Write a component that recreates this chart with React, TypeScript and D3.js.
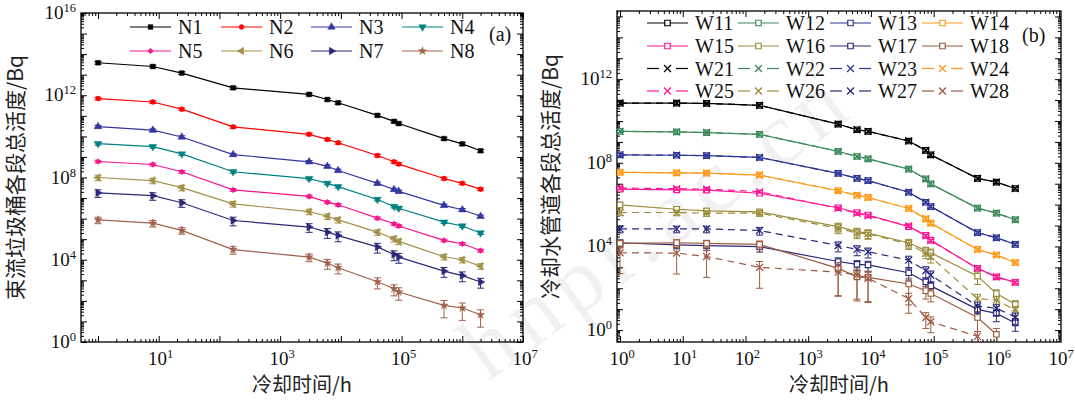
import React, { useEffect, useRef } from "react";
import * as d3 from "d3";

// cooling time points (h), shared by both panels
const hours = [1, 8, 24, 168, 3000, 6000, 9000, 40000, 75000, 90000, 500000, 1000000, 2000000];

// (a) beam dump segments, total activity (Bq)
const nNames = ["N1", "N2", "N3", "N4", "N5", "N6", "N7", "N8"];
const nColors = ["#000000", "#ff0000", "#3236a0", "#008080", "#f5148c", "#a4914a", "#2a2a78", "#a0604a"];
const nMarkers = ["square", "circle", "triUp", "triDown", "diamond", "triLeft", "triRight", "star"];
const N1 = [3.8e13, 2.5e13, 1.2e13, 2.3e12, 1.1e12, 6.2e11, 4.3e11, 1.05e11, 5.4e10, 4.2e10, 7.8e9, 4.3e9, 2.0e9];
const N2 = [6.9e11, 4.7e11, 2.1e11, 2.9e10, 1.26e10, 7.1e9, 4.9e9, 1.17e9, 5.8e8, 4.5e8, 8.9e7, 5.2e7, 2.7e7];
const N3 = [3.0e10, 2.0e10, 9.3e9, 1.3e9, 5.8e8, 3.5e8, 2.2e8, 5.2e7, 2.6e7, 2.1e7, 4.4e6, 2.7e6, 1.3e6];
const N4 = [4.4e9, 3.2e9, 1.4e9, 1.9e8, 8.9e7, 5.2e7, 3.6e7, 8.5e6, 3.9e6, 3.2e6, 6.8e5, 4.4e5, 2.0e5];
const N5 = [6.0e8, 4.3e8, 1.9e8, 2.5e7, 1.2e7, 6.3e6, 4.7e6, 1.05e6, 5.6e5, 4.4e5, 8.7e4, 6.0e4, 2.8e4];
const N6 = [1.0e8, 7.1e7, 3.2e7, 5.2e6, 2.2e6, 1.3e6, 8.7e5, 2.2e5, 1.05e5, 7.8e4, 1.4e4, 1.0e4, 4.9e3];
const N7 = [1.8e7, 1.3e7, 5.9e6, 8.1e5, 3.9e5, 2.2e5, 1.5e5, 4.2e4, 1.8e4, 1.35e4, 2.8e3, 1.7e3, 830];
const N8 = [8.7e5, 6.0e5, 2.7e5, 3.1e4, 1.35e4, 6.9e3, 4.1e3, 850, 390, 270, 60, 45, 21];
// relative uncertainties
const nErrLow = [0.15, 0.15, 0.15, 0.15, 0.15, 0.15, 0.15, 0.15, 0.15, 0.15, 0.15, 0.15, 0.15];
const N6err = [0.3, 0.3, 0.3, 0.3, 0.3, 0.3, 0.3, 0.3, 0.3, 0.3, 0.3, 0.3, 0.3];
const N7err = [0.4, 0.4, 0.4, 0.45, 0.45, 0.5, 0.5, 0.5, 0.5, 0.5, 0.5, 0.5, 0.5];
const N8err = [0.35, 0.35, 0.35, 0.4, 0.4, 0.5, 0.5, 0.55, 0.55, 0.6, 0.75, 0.75, 0.75];

// (b) cooling water pipe segments, total activity (Bq)
const wNames = ["W11", "W12", "W13", "W14", "W15", "W16", "W17", "W18", "W21", "W22", "W23", "W24", "W25", "W26", "W27", "W28"];
const wColors = ["#000000", "#3f8a5c", "#2d3596", "#ff9a1a", "#ff1493", "#9c8c3c", "#28287a", "#9c5a40"];
const W11 = [7.2e10, 7.2e10, 6.9e10, 5.6e10, 7.1e9, 3.8e9, 3.2e9, 1.1e9, 3.9e8, 2.4e8, 1.8e7, 1.2e7, 5.9e6];
const W12 = [3.2e9, 3.0e9, 2.8e9, 2.3e9, 3.5e8, 2.0e8, 1.55e8, 5.0e7, 1.7e7, 9.8e6, 6.8e5, 3.9e5, 1.9e5];
const W13 = [2.4e8, 2.3e8, 2.2e8, 1.8e8, 3.1e7, 1.8e7, 1.4e7, 3.9e6, 1.3e6, 8.1e5, 4.6e4, 2.6e4, 1.26e4];
const W14 = [3.5e7, 3.3e7, 3.2e7, 2.6e7, 4.6e6, 2.8e6, 2.2e6, 6.5e5, 2.1e5, 1.3e5, 7.2e3, 3.9e3, 1.7e3];
const W15 = [5.5e6, 5.1e6, 4.9e6, 3.5e6, 7.1e5, 4.2e5, 3.2e5, 8.9e4, 3.4e4, 2.0e4, 890, 350, 190];
const W16 = [9.8e5, 6.0e5, 5.0e5, 4.5e5, 8.9e4, 5.1e4, 4.3e4, 1.5e4, 6.3e3, 5.0e3, 380, 56, 17];
const W17 = [1.5e4, 1.2e4, 1.1e4, 9.8e3, 1.9e3, 1.4e3, 1.3e3, 550, 200, 130, 9.8, 6.3, 2.2];
const W18 = [1.4e4, 1.5e4, 1.4e4, 1.26e4, 890, 350, 330, 160, 76, 56, 4.0, 0.63, null];
const W21 = W11;
const W22 = W12;
const W23 = W13;
const W24 = W14;
const W25 = [6.2e6, 5.8e6, 5.5e6, 4.2e6, 6.6e5, 3.8e5, 2.9e5, 9.5e4, 3.2e4, 1.9e4, 890, 350, 190];
const W26 = [4.2e5, 4.2e5, 3.9e5, 3.9e5, 7.4e4, 4.3e4, 4.0e4, 1.3e4, 4.7e3, 3.2e3, 32, 27, 9.1];
const W27 = [6.9e4, 6.9e4, 6.9e4, 5.8e4, 1.1e4, 7.2e3, 5.6e3, 2.2e3, 690, 430, 14, 11, 4.2];
const W28 = [5.0e3, 4.8e3, 3.3e3, 1.0e3, 590, 430, 300, 32, 4.0, 2.5, 0.5, null, null];
const wErrSmall = [0.15, 0.15, 0.15, 0.15, 0.15, 0.15, 0.15, 0.15, 0.15, 0.15, 0.15, 0.15, 0.15];
const W16err = [0.3, 0.3, 0.3, 0.3, 0.45, 0.45, 0.45, 0.45, 0.45, 0.5, 0.6, 0.5, 0.5];
const W17err = [0.35, 0.35, 0.4, 0.45, 0.5, 0.5, 0.5, 0.55, 0.55, 0.55, 0.6, 0.6, 0.6];
const W18err = [0.4, 0.4, 0.4, 0.45, 0.95, 0.93, 0.93, 0.9, 0.6, 0.6, 0.95, 0.9, 0.9];
const W27err = [0.35, 0.35, 0.35, 0.4, 0.5, 0.5, 0.5, 0.55, 0.55, 0.55, 0.55, 0.55, 0.55];
const W28err = [0.9, 0.9, 0.9, 0.9, 0.93, 0.93, 0.93, 0.8, 0.7, 0.7, 0.7, 0.7, 0.7];

const leftXLabels = [1, 3, 5, 7];
const leftYLabels = [0, 4, 8, 12, 16];
const rightXLabels = [0, 1, 2, 3, 4, 5, 6, 7];
const rightYLabels = [0, 4, 8, 12];

const SERIF = "'Liberation Serif', 'Times New Roman', serif";
const CJK = "'Noto Sans CJK SC', sans-serif";

function symbolPath(kind, size) {
  const s = d3.symbol();
  if (kind === "square" || kind === "openSquare") return s.type(d3.symbolSquare).size(size)();
  if (kind === "circle") return s.type(d3.symbolCircle).size(size * 0.85)();
  if (kind === "diamond") return s.type(d3.symbolSquare).size(size * 0.75)();
  if (kind === "star") return s.type(d3.symbolStar).size(size * 0.9)();
  if (kind === "cross") return s.type(d3.symbolX).size(size * 1.1)();
  return s.type(d3.symbolTriangle).size(size * 1.1)();
}
const rotation = { triDown: 180, triLeft: -90, triRight: 90, diamond: 45 };

function drawMarker(g, kind, color, cx, cy, size) {
  const p = g.append("path")
    .attr("d", symbolPath(kind, size))
    .attr("transform", `translate(${cx},${cy}) rotate(${rotation[kind] || 0})`);
  if (kind === "openSquare") p.attr("fill", "#fff").attr("stroke", color).attr("stroke-width", 1.2);
  else if (kind === "cross") p.attr("fill", "none").attr("stroke", color).attr("stroke-width", 1.3);
  else p.attr("fill", color).attr("stroke", color).attr("stroke-width", 0.5);
}

function drawPanel(root, p) {
  const x = d3.scaleLog().domain(p.xDomain).range([p.left, p.right]);
  const y = d3.scaleLog().domain(p.yDomain).range([p.bottom, p.top]);
  const g = root.append("g");

  // ticks, inward on all four sides
  const logTicks = (dom) => {
    const major = [], minor = [];
    for (let k = Math.floor(Math.log10(dom[0])); k <= Math.ceil(Math.log10(dom[1])); k++) {
      for (let m = 1; m < 10; m++) {
        const v = m * Math.pow(10, k);
        if (v < dom[0] || v > dom[1] * 1.0001) continue;
        (m === 1 ? major : minor).push(v);
      }
    }
    return { major, minor };
  };
  const xt = logTicks(p.xDomain);
  const yt = logTicks(p.yDomain);
  const addAxis = (axisFn, scale, values, size, transform) => {
    g.append("g").attr("transform", transform)
      .call(axisFn(scale).tickValues(values).tickSizeInner(-size).tickSizeOuter(0).tickFormat(() => ""))
      .call((s) => s.select(".domain").remove())
      .call((s) => s.selectAll("line").attr("stroke", "#000").attr("stroke-width", 1));
  };
  [[xt.major, 6], [xt.minor, 3]].forEach(([vals, len]) => {
    addAxis(d3.axisBottom, x, vals, len, `translate(0,${p.bottom})`);
    addAxis(d3.axisTop, x, vals, len, `translate(0,${p.top})`);
  });
  [[yt.major, 6], [yt.minor, 3]].forEach(([vals, len]) => {
    addAxis(d3.axisLeft, y, vals, len, `translate(${p.left},0)`);
    addAxis(d3.axisRight, y, vals, len, `translate(${p.right},0)`);
  });

  g.append("rect")
    .attr("x", p.left).attr("y", p.top)
    .attr("width", p.right - p.left).attr("height", p.bottom - p.top)
    .attr("fill", "none").attr("stroke", "#000").attr("stroke-width", 1.3);

  p.xLabels.forEach((e) => {
    const t = g.append("text").attr("x", x(Math.pow(10, e)) + 2).attr("y", p.bottom + 23)
      .attr("text-anchor", "middle").attr("font-family", SERIF).attr("font-size", 19).attr("fill", "#111");
    t.append("tspan").text("10");
    t.append("tspan").attr("font-size", 12.5).attr("dy", -7).text(String(e));
  });
  p.yLabels.forEach((e) => {
    const t = g.append("text").attr("x", p.left - 5).attr("y", y(Math.pow(10, e)) + 6)
      .attr("text-anchor", "end").attr("font-family", SERIF).attr("font-size", 19).attr("fill", "#111");
    t.append("tspan").text("10");
    t.append("tspan").attr("font-size", 12.5).attr("dy", -7).text(String(e));
  });

  g.append("text").attr("x", (p.left + p.right) / 2).attr("y", 392)
    .attr("text-anchor", "middle").attr("font-family", CJK).attr("font-size", 20).attr("fill", "#222")
    .text("冷却时间/h");
  g.append("text")
    .attr("transform", `translate(${p.left - p.titleOffset},${(p.top + p.bottom) / 2}) rotate(-90)`)
    .attr("text-anchor", "middle").attr("font-family", CJK).attr("font-size", 21).attr("fill", "#222")
    .text(p.yTitle);

  g.append("text").attr("x", p.tagX).attr("y", p.tagY).attr("font-family", SERIF)
    .attr("font-size", 20).attr("fill", "#111").text(p.tag);

  // data
  const clipId = `clip-${p.id}`;
  g.append("clipPath").attr("id", clipId).append("rect")
    .attr("x", p.left).attr("y", p.top).attr("width", p.right - p.left).attr("height", p.bottom - p.top);
  const data = g.append("g").attr("clip-path", `url(#${clipId})`);
  const line = d3.line().defined((d) => d[1] != null).x((d) => x(d[0])).y((d) => y(d[1]));

  p.series.forEach((s) => {
    const pts = hours.map((h, i) => [h, s.values[i], s.err[i]]);
    data.append("path").datum(pts).attr("d", line).attr("fill", "none")
      .attr("stroke", s.color).attr("stroke-width", 1.2)
      .attr("stroke-dasharray", s.dashed ? "7,5" : null);
    pts.filter((d) => d[1] != null).forEach(([h, v, e]) => {
      const cx = x(h);
      const lo = v * (1 - e) > 0 ? y(v * (1 - e)) : p.bottom + 20;
      const hi = y(v * (1 + e));
      const eb = data.append("g").attr("stroke", s.color).attr("stroke-width", 1);
      eb.append("line").attr("x1", cx).attr("x2", cx).attr("y1", lo).attr("y2", hi);
      eb.append("line").attr("x1", cx - 3.5).attr("x2", cx + 3.5).attr("y1", lo).attr("y2", lo);
      eb.append("line").attr("x1", cx - 3.5).attr("x2", cx + 3.5).attr("y1", hi).attr("y2", hi);
      drawMarker(data, s.marker, s.color, cx, y(v), p.markerSize);
    });
  });

  // legend
  p.series.forEach((s, i) => {
    const col = i % 4;
    const row = Math.floor(i / 4);
    const lx = p.legX[col];
    const ly = p.legY[row];
    const lg = g.append("g");
    if (s.dashed) {
      lg.append("line").attr("x1", lx).attr("x2", lx + 12).attr("y1", ly).attr("y2", ly).attr("stroke", s.color).attr("stroke-width", 1.2);
      lg.append("line").attr("x1", lx + 29).attr("x2", lx + 41).attr("y1", ly).attr("y2", ly).attr("stroke", s.color).attr("stroke-width", 1.2);
    } else {
      lg.append("line").attr("x1", lx).attr("x2", lx + 41).attr("y1", ly).attr("y2", ly).attr("stroke", s.color).attr("stroke-width", 1.2);
    }
    drawMarker(lg, s.marker, s.color, lx + 20.5, ly, p.markerSize);
    lg.append("text").attr("x", lx + 48).attr("y", ly + 7).attr("font-family", SERIF)
      .attr("font-size", 20).attr("fill", "#111").text(s.name);
  });
}

export default function App() {
  const svgRef = useRef(null);

  useEffect(() => {
    const svg = d3.select(svgRef.current);
    svg.selectAll("*").remove();

    // faint site watermark
    svg.append("text")
      .attr("transform", "translate(488,382) rotate(-36)")
      .attr("font-family", SERIF).attr("font-size", 90).attr("letter-spacing", 9)
      .attr("fill", "#f1f1f1").text("hnpr.ac.cn");

    const nValues = [N1, N2, N3, N4, N5, N6, N7, N8];
    const nErrs = [nErrLow, nErrLow, nErrLow, nErrLow, nErrLow, N6err, N7err, N8err];
    drawPanel(svg, {
      id: "a",
      left: 81, right: 523, top: 13, bottom: 342,
      xDomain: [Math.pow(10, -0.28), 1e7],
      yDomain: [1, 1e16],
      xLabels: leftXLabels, yLabels: leftYLabels,
      yTitle: "束流垃圾桶各段总活度/Bq", titleOffset: 58,
      tag: "(a)", tagX: 489, tagY: 41,
      legX: [130, 221, 311, 402], legY: [27, 51],
      markerSize: 22,
      series: nNames.map((name, i) => ({
        name, color: nColors[i], marker: nMarkers[i], dashed: false,
        values: nValues[i], err: nErrs[i],
      })),
    });

    const wValues = [W11, W12, W13, W14, W15, W16, W17, W18, W21, W22, W23, W24, W25, W26, W27, W28];
    const wErrs = [wErrSmall, wErrSmall, wErrSmall, wErrSmall, wErrSmall, W16err, W17err, W18err,
      wErrSmall, wErrSmall, wErrSmall, wErrSmall, wErrSmall, W16err, W27err, W28err];
    drawPanel(svg, {
      id: "b",
      left: 617, right: 1061, top: 11, bottom: 342,
      xDomain: [Math.pow(10, -0.048), Math.pow(10, 7.03)],
      yDomain: [Math.pow(10, -0.57), Math.pow(10, 15.26)],
      xLabels: rightXLabels, yLabels: rightYLabels,
      yTitle: "冷却水管道各段总活度/Bq", titleOffset: 59,
      tag: "(b)", tagX: 1022, tagY: 42,
      legX: [647, 738, 830, 922], legY: [23, 46, 68.5, 91],
      markerSize: 30,
      series: wNames.map((name, i) => ({
        name, color: wColors[i % 8], marker: i < 8 ? "openSquare" : "cross", dashed: i >= 8,
        values: wValues[i], err: wErrs[i],
      })),
    });
  }, []);

  return (
    <svg
      ref={svgRef}
      width={1075}
      height={403}
      style={{ position: "absolute", left: 0, top: 0, background: "#fff" }}
    />
  );
}
